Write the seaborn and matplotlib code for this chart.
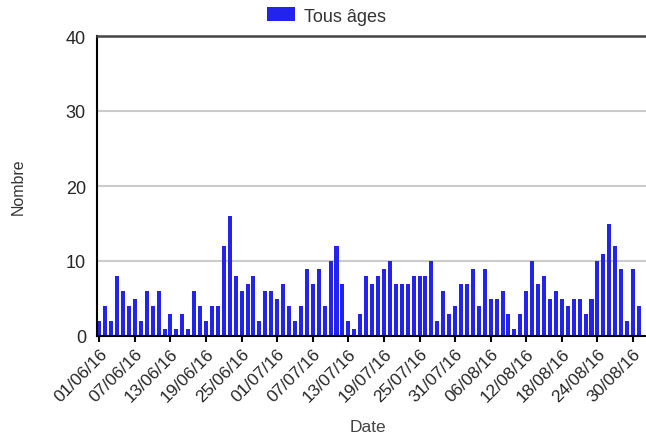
import pandas as pd
import matplotlib
matplotlib.use('Agg')
import matplotlib.pyplot as plt
import seaborn as sns

# daily counts, 01/06/16 -> 31/08/16
dates = pd.date_range('2016-06-01', '2016-08-31').strftime('%d/%m/%y').tolist()
counts = [2, 4, 2, 8, 6, 4, 5, 2, 6, 4, 6, 1, 3, 1, 3, 1, 6, 4, 2, 4, 4, 12, 16,
          8, 6, 7, 8, 2, 6, 6, 5, 7, 4, 2, 4, 9, 7, 9, 4, 10, 12, 7, 2, 1,
          3, 8, 7, 8, 9, 10, 7, 7, 7, 8, 8, 8, 10, 2, 6, 3, 4, 7, 7, 9, 4, 9, 5,
          5, 6, 3, 1, 3, 6, 10, 7, 8, 5, 6, 5, 4, 5, 5, 3, 5, 10, 11, 15, 12, 9, 2, 9, 4]
series_name = 'Tous âges'
yticks = [0, 10, 20, 30, 40]

df = pd.DataFrame({'Date': dates, 'Nombre': counts})

sns.set_style('white')
plt.rcParams['font.family'] = ['Liberation Sans', 'DejaVu Sans']

W, H = 646, 435
step = 5.93  # px per day
fig = plt.figure(figsize=(W / 100, H / 100), dpi=100)
ax = fig.add_axes([97 / W, 98 / H, (W - 97) / W, 300 / H])

sns.barplot(data=df, x='Date', y='Nombre', color='#2323ee', saturation=1,
            width=0.68, linewidth=0, label=series_name, ax=ax)

ax.set_xlim(-2.3 / step, (W - 99.3) / step)
ax.set_ylim(0, 40)
ax.set_yticks(yticks)
ax.set_xticks(range(0, len(dates), 6))
ax.set_xticklabels(dates[::6], rotation=45, ha='right', va='top',
                   rotation_mode='anchor')

ax.yaxis.grid(True, color='#cccccc', lw=1.5)
ax.set_axisbelow(True)
ax.tick_params(axis='x', length=4, width=1.5, color='black', pad=3,
               labelsize=12.5, bottom=True)
ax.tick_params(axis='y', length=0, pad=8, labelsize=13)

for s in ['left', 'bottom']:
    ax.spines[s].set_color('black')
    ax.spines[s].set_linewidth(1.5)
ax.spines['top'].set_color('#444444')
ax.spines['top'].set_linewidth(1.8)
ax.spines['right'].set_visible(False)

axw = W - 97
ax.set_xlabel('Date', fontsize=12.5, color='#444444')
ax.xaxis.set_label_coords((367.5 - 97) / axw, (337 - 428) / 300)
ax.xaxis.label.set_va('center')
ax.set_ylabel('Nombre', fontsize=11.5, color='#333333')
ax.yaxis.set_label_coords((18 - 97) / axw, 0.5)
ax.yaxis.label.set_va('center')

ax.legend(loc='center', bbox_to_anchor=(326.5 / W, 1 - 17 / H),
          bbox_transform=fig.transFigure, frameon=False, fontsize=13,
          handlelength=1.6, handleheight=0.83, handletextpad=0.5,
          labelcolor='#333333')

fig.savefig('out.png', dpi=100)
